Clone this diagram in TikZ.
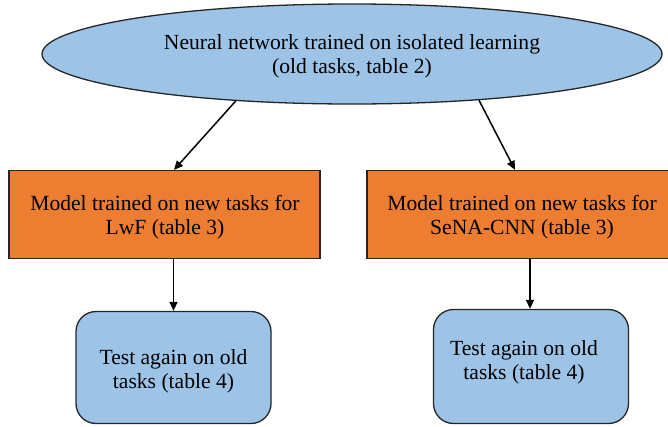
\documentclass[tikz,border=0pt]{standalone}
\usepackage{fontspec}
\setmainfont{Liberation Serif}
\usetikzlibrary{shapes.geometric,arrows.meta}
\definecolor{lblue}{HTML}{9DC3E6}
\definecolor{orng}{HTML}{ED7D31}
\tikzset{
  txt/.style={font=\fontsize{21.6}{24}\selectfont, align=center, inner sep=0pt},
  ellbox/.style={ellipse, draw=black!85, line width=1.3pt, fill=lblue, minimum width=620pt, minimum height=100pt, inner sep=0pt},
  orangebox/.style={rectangle, draw=black!85, line width=1.3pt, fill=orng, minimum height=88pt, inner sep=0pt},
  testbox/.style={rectangle, rounded corners=20pt, draw=black!85, line width=1.3pt, fill=lblue, minimum width=195pt, inner sep=0pt},
  arr/.style={-{Triangle[length=9pt,width=8pt]}, line width=1.5pt, black}
}
\begin{document}
\begin{tikzpicture}[x=1pt,y=-1pt]
\clip (0,0) rectangle (668,426);
\useasboundingbox (0,0) rectangle (668,426);
\node[ellbox] (ell) at (352,54) {};
\node[txt] (ellt) at (352,56) {Neural network trained on isolated learning\\(old tasks, table 2)};
\node[orangebox, minimum width=311pt] (lwf) at (164.5,214.5) {};
\node[txt] (lwft) at (165,217) {Model trained on new tasks for\\LwF (table 3)};
\node[orangebox, minimum width=310pt] (sena) at (522,214.5) {};
\node[txt] (senat) at (522,217) {Model trained on new tasks for\\SeNA-CNN (table 3)};
\node[testbox, minimum height=112pt] (t1) at (173.5,367.5) {};
\node[txt] (t1t) at (173.5,371) {Test again on old\\tasks (table 4)};
\node[testbox, minimum height=114pt] (t2) at (531,366.5) {};
\node[txt] (t2t) at (524,362) {Test again on old\\tasks (table 4)};
\draw[arr] (ell.202) -- ([xshift=9.5pt]lwf.north);
\draw[arr] (ell.340) -- ([xshift=-7pt]sena.north);
\draw[arr] (t1.north |- lwf.south) -- (t1.north);
\draw[arr] ([xshift=-1pt]t2.north |- sena.south) -- ([xshift=-1pt]t2.north);
\end{tikzpicture}
\end{document}
